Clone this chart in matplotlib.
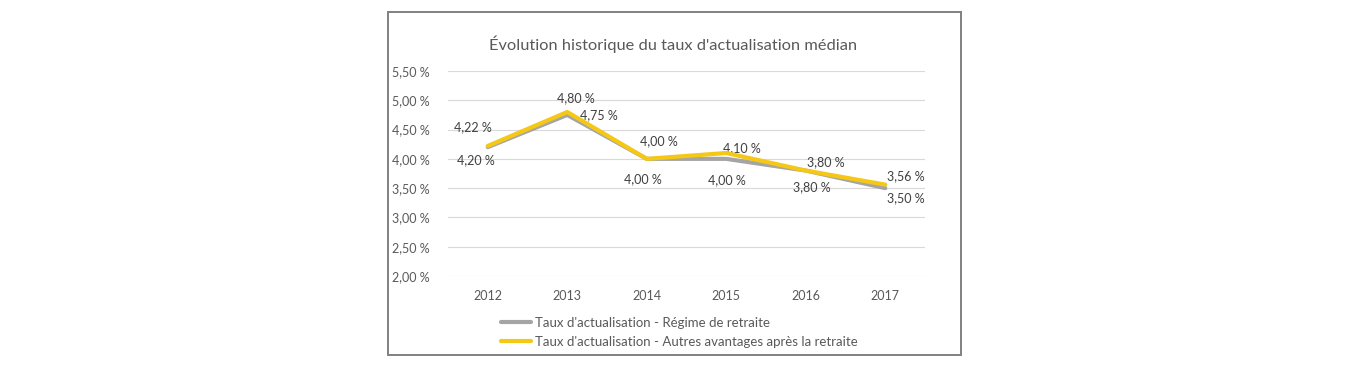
import matplotlib.pyplot as plt
from matplotlib.patches import Rectangle

years = ["2012", "2013", "2014", "2015", "2016", "2017"]
regime = [4.20, 4.75, 4.00, 4.00, 3.80, 3.50]
autres = [4.22, 4.80, 4.00, 4.10, 3.80, 3.56]
y_ticks = [2.0, 2.5, 3.0, 3.5, 4.0, 4.5, 5.0, 5.5]

title = "Évolution historique du taux d'actualisation médian"
label_regime = "Taux d'actualisation - Régime de retraite"
label_autres = "Taux d'actualisation - Autres avantages après la retraite"

GRAY = "#A5A5A5"
YELLOW = "#F5C816"
TEXT = "#595959"

# label offsets in pixels (dx, dy)
off_regime = [(-12, -13), (32, 0), (-4, -20), (1, -21), (6, -17), (21, -10)]
off_autres = [(-15, 19), (9, 14), (12, 18), (16, 5), (20, 8), (21, 8)]

plt.rcParams.update({"font.family": ["Lato", "DejaVu Sans"]})

W, H = 1355, 370
fig = plt.figure(figsize=(W / 100, H / 100), dpi=100)
fig.patches.append(Rectangle((388 / W, 1 - 355 / H), (961 - 388) / W, (355 - 12) / H,
                             transform=fig.transFigure, fill=False,
                             edgecolor="#808080", linewidth=1.4))

ax = fig.add_axes([448 / W, 1 - 276 / H, (925 - 448) / W, (276 - 71) / H])
x = range(len(years))
ax.plot(x, regime, color=GRAY, linewidth=3, solid_capstyle="round", label=label_regime, zorder=3)
ax.plot(x, autres, color=YELLOW, linewidth=3, solid_capstyle="round", label=label_autres, zorder=4)

def fmt(v):
    return f"{v:.2f}".replace(".", ",") + " %"

for i, v in enumerate(regime):
    ax.annotate(fmt(v), (i, v), xytext=off_regime[i], textcoords="offset pixels",
                ha="center", va="center", fontsize=9, color="#404040")
for i, v in enumerate(autres):
    ax.annotate(fmt(v), (i, v), xytext=off_autres[i], textcoords="offset pixels",
                ha="center", va="center", fontsize=9, color="#404040")

ax.set_xlim(-0.5, len(years) - 0.5)
ax.set_ylim(2.0, 5.5)
ax.set_xticks(list(x))
ax.set_xticklabels(years)
ax.set_yticks(y_ticks)
ax.set_yticklabels([fmt(v) for v in y_ticks])
ax.tick_params(length=0, labelsize=9, colors=TEXT)
ax.tick_params(axis="y", pad=13)
ax.tick_params(axis="x", pad=10)
ax.grid(axis="y", color="#D9D9D9", linewidth=0.8)
ax.set_axisbelow(True)
for s in ax.spines.values():
    s.set_visible(False)

fig.text(673 / W, 1 - 44 / H, title, ha="center", va="center", fontsize=11.8, color=TEXT)

fig.legend(loc="upper left", bbox_to_anchor=(501 / W, 1 - 317 / H), frameon=False,
           fontsize=9.5, labelcolor=TEXT, handlelength=2.3, handletextpad=0.3,
           labelspacing=0.5, borderpad=0, borderaxespad=0)

fig.savefig("out.png", dpi=100)
